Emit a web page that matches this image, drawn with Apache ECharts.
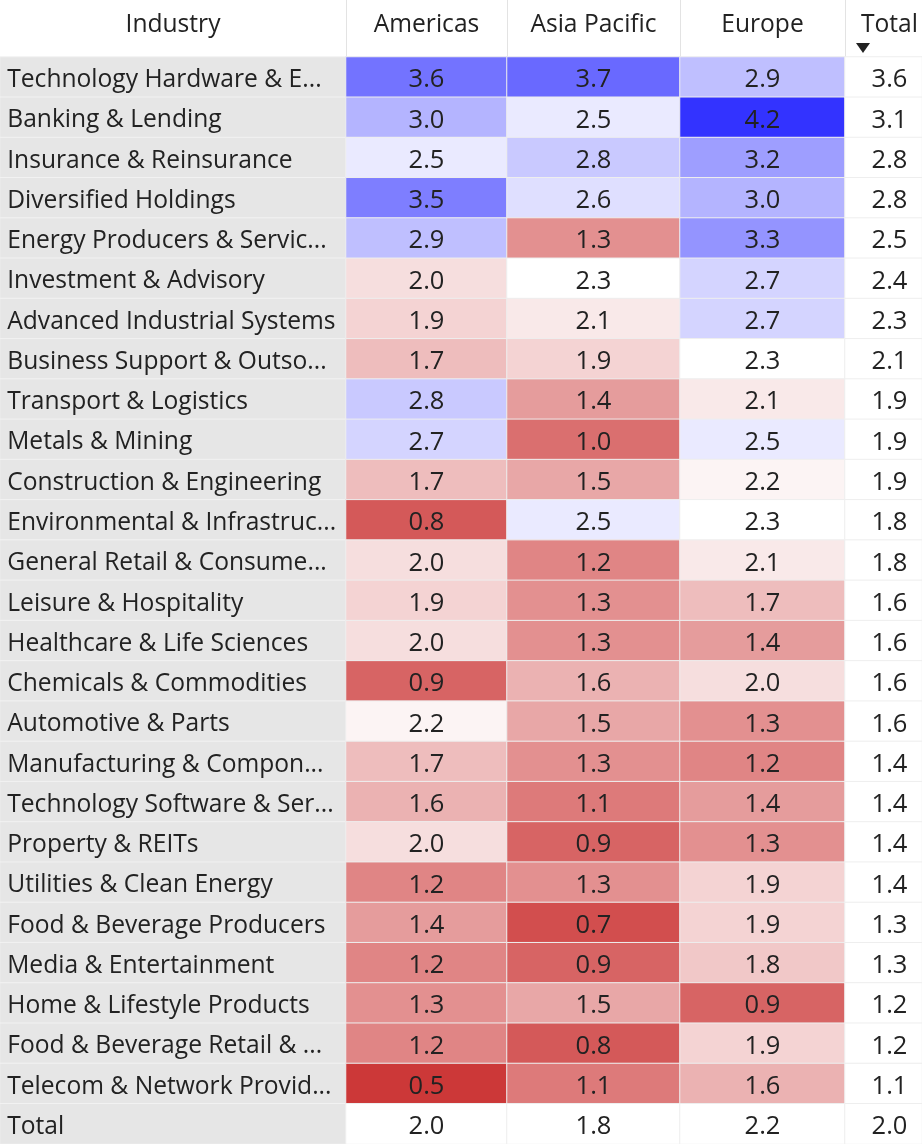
<!DOCTYPE html>
<html lang="en">
<head>
    <meta charset="UTF-8">
    <title>Industry by Region</title>
    <script src="https://cdn.jsdelivr.net/npm/echarts@6/dist/echarts.min.js"></script>
    <style>
        * { margin: 0; padding: 0; box-sizing: border-box; }
        body { background: #fff; }
        #chart { width: 922px; height: 1144px; }
    </style>
</head>
<body>
    <div id="chart"></div>
    <script>
        // table data
        const industries = [
            'Technology Hardware & E...', 'Banking & Lending', 'Insurance & Reinsurance',
            'Diversified Holdings', 'Energy Producers & Servic...', 'Investment & Advisory',
            'Advanced Industrial Systems', 'Business Support & Outso...', 'Transport & Logistics',
            'Metals & Mining', 'Construction & Engineering', 'Environmental & Infrastruc...',
            'General Retail & Consume...', 'Leisure & Hospitality', 'Healthcare & Life Sciences',
            'Chemicals & Commodities', 'Automotive & Parts', 'Manufacturing & Compon...',
            'Technology Software & Ser...', 'Property & REITs', 'Utilities & Clean Energy',
            'Food & Beverage Producers', 'Media & Entertainment', 'Home & Lifestyle Products',
            'Food & Beverage Retail & ...', 'Telecom & Network Provid...'
        ];
        const regions = ['Americas', 'Asia Pacific', 'Europe'];
        const americas = [3.6, 3.0, 2.5, 3.5, 2.9, 2.0, 1.9, 1.7, 2.8, 2.7, 1.7, 0.8, 2.0,
                          1.9, 2.0, 0.9, 2.2, 1.7, 1.6, 2.0, 1.2, 1.4, 1.2, 1.3, 1.2, 0.5];
        const asiaPacific = [3.7, 2.5, 2.8, 2.6, 1.3, 2.3, 2.1, 1.9, 1.4, 1.0, 1.5, 2.5, 1.2,
                             1.3, 1.3, 1.6, 1.5, 1.3, 1.1, 0.9, 1.3, 0.7, 0.9, 1.5, 0.8, 1.1];
        const europe = [2.9, 4.2, 3.2, 3.0, 3.3, 2.7, 2.7, 2.3, 2.1, 2.5, 2.2, 2.3, 2.1,
                        1.7, 1.4, 2.0, 1.3, 1.2, 1.4, 1.3, 1.9, 1.9, 1.8, 0.9, 1.9, 1.6];
        const rowTotals = [3.6, 3.1, 2.8, 2.8, 2.5, 2.4, 2.3, 2.1, 1.9, 1.9, 1.9, 1.8, 1.8,
                           1.6, 1.6, 1.6, 1.6, 1.4, 1.4, 1.4, 1.4, 1.3, 1.3, 1.2, 1.2, 1.1];
        const columnTotals = [2.0, 1.8, 2.2];
        const grandTotal = 2.0;

        const rows = industries.concat(['Total']);
        const regionValues = [americas, asiaPacific, europe];

        const chart = echarts.init(document.getElementById('chart'));
        const font = "'Open Sans', sans-serif";
        const textColor = '#222';
        const headerH = 57;
        const rowH = 40.3;
        const colLefts = [0, 346, 507, 680, 845];
        const colWidths = [346, 161, 173, 165, 90];
        const headers = ['Industry'].concat(regions, ['Total']);

        const grids = colLefts.map((l, i) => ({
            left: l, top: headerH, width: colWidths[i], height: rows.length * rowH
        }));
        const xAxes = headers.map((h, i) => ({
            type: 'category', gridIndex: i, data: [h], position: 'top',
            axisLine: { show: false }, axisTick: { show: false }, splitLine: { show: false },
            axisLabel: {
                fontSize: 24.6, fontFamily: font, color: textColor, margin: 20, lineHeight: 25,
                padding: i === 4 ? [0, 0, 0, 12] : 0
            }
        }));
        const yAxes = headers.map((h, i) => ({
            type: 'category', gridIndex: i, data: rows, inverse: true, show: false
        }));

        const valueLabel = {
            show: true, fontSize: 25.5, fontFamily: font, color: textColor, offset: [0, 3],
            formatter: p => p.value[2].toFixed(1)
        };
        const totalLabel = Object.assign({}, valueLabel, { offset: [6, 3] });
        const cellBorder = { borderColor: '#eeeeee', borderWidth: 1 };

        const series = [];
        // industry name column
        series.push({
            type: 'heatmap', xAxisIndex: 0, yAxisIndex: 0,
            data: rows.map((r, i) => [0, i, 0]),
            itemStyle: { color: '#e6e6e6', borderColor: '#f2f2f2', borderWidth: 1 },
            label: {
                show: true, position: 'insideLeft', distance: 8, fontSize: 24.6, fontFamily: font,
                color: textColor, offset: [0, 3], formatter: p => rows[p.value[1]]
            },
            emphasis: { disabled: true }, silent: true
        });
        // coloured region cells
        regionValues.forEach((vals, k) => {
            series.push({
                type: 'heatmap', xAxisIndex: k + 1, yAxisIndex: k + 1,
                data: vals.map((v, i) => [0, i, v]),
                itemStyle: cellBorder, label: valueLabel,
                emphasis: { disabled: true }, silent: true
            });
        });
        // total row under each region
        columnTotals.forEach((v, k) => {
            series.push({
                type: 'heatmap', xAxisIndex: k + 1, yAxisIndex: k + 1,
                data: [[0, industries.length, v]],
                itemStyle: Object.assign({ color: '#ffffff' }, cellBorder), label: valueLabel,
                emphasis: { disabled: true }, silent: true
            });
        });
        // total column
        series.push({
            type: 'heatmap', xAxisIndex: 4, yAxisIndex: 4,
            data: rowTotals.concat([grandTotal]).map((v, i) => [0, i, v]),
            itemStyle: Object.assign({ color: '#ffffff' }, cellBorder), label: totalLabel,
            emphasis: { disabled: true }, silent: true
        });

        // header separators and sort marker
        const graphics = colLefts.slice(1).map(x => ({
            type: 'line', shape: { x1: x + 0.5, y1: 0, x2: x + 0.5, y2: headerH },
            style: { stroke: '#e3e3e3', lineWidth: 1 }
        }));
        graphics.push({
            type: 'polygon', shape: { points: [[856, 43], [870, 43], [863, 53]] },
            style: { fill: '#222' }
        });

        chart.setOption({
            backgroundColor: '#ffffff',
            animation: false,
            grid: grids,
            xAxis: xAxes,
            yAxis: yAxes,
            visualMap: {
                type: 'continuous', show: false, min: 0.4, max: 4.2, dimension: 2,
                seriesIndex: [1, 2, 3],
                inRange: { color: ['#c92d2d', '#ffffff', '#3333ff'] }
            },
            series: series,
            graphic: graphics
        });
    </script>
</body>
</html>
